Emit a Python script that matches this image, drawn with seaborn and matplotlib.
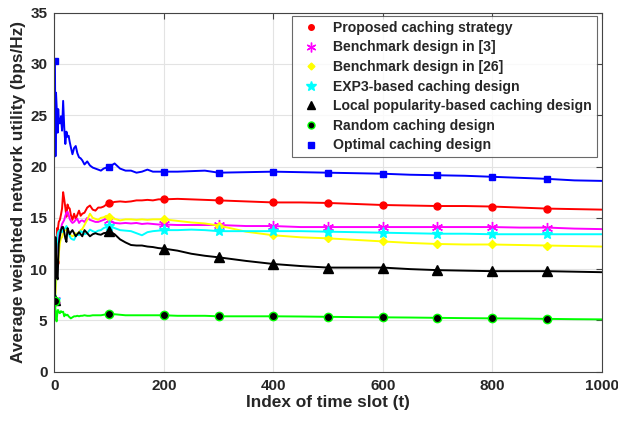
import numpy as np
import pandas as pd
import matplotlib
matplotlib.use('Agg')
import matplotlib.pyplot as plt
from matplotlib.lines import Line2D
import seaborn as sns

# ---------------------------------------------------------------
# data (time slot -> utility, bps/Hz)
# ---------------------------------------------------------------
t_slots = [1, 2, 3, 4, 5, 6, 7, 8, 10, 12, 14, 16, 18, 20, 22, 24, 26, 28, 30,
           33, 36, 39, 42, 45, 48, 51, 55, 60, 65, 70, 75, 80, 85, 90, 95, 100,
           110, 120, 130, 140, 150, 160, 170, 180, 190, 200, 225, 250, 275, 300,
           350, 400, 450, 500, 550, 600, 650, 700, 750, 800, 850, 900, 950, 1000]

proposed = [10.7, 12.0, 13.1, 12.6, 14.0, 13.5, 14.2, 14.6, 14.8, 15.3, 15.9, 17.5, 16.8, 16.0, 15.1, 16.3, 16.0, 15.9, 15.3,
            14.8, 15.4, 14.9, 15.3, 15.7, 15.2, 15.4, 15.5, 16.0, 16.2, 15.8, 15.7, 16.0, 16.0, 16.1, 16.3, 16.4,
            16.55, 16.6, 16.55, 16.6, 16.7, 16.7, 16.75, 16.7, 16.8, 16.8, 16.85, 16.8, 16.75, 16.7,
            16.6, 16.5, 16.5, 16.45, 16.35, 16.25, 16.2, 16.15, 16.15, 16.1, 16.0, 15.9, 15.85, 15.8]

bench_3 = [7.0, 9.0, 10.5, 11.5, 12.3, 12.5, 13.0, 13.5, 13.7, 13.9, 14.4, 14.6, 14.8, 15.2, 15.5, 15.6, 15.3, 14.9, 14.7,
           14.5, 14.6, 14.8, 14.9, 14.5, 14.7, 14.75, 14.6, 15.0, 14.8, 14.7, 14.6, 14.6, 14.7, 14.8, 14.9, 14.8,
           14.5, 14.45, 14.5, 14.45, 14.5, 14.4, 14.45, 14.4, 14.35, 14.35, 14.3, 14.3, 14.3, 14.3,
           14.2, 14.2, 14.1, 14.1, 14.1, 14.1, 14.1, 14.1, 14.1, 14.1, 14.05, 14.05, 13.95, 13.9]

bench_26 = [7.0, 7.5, 8.5, 9.5, 10.2, 10.5, 10.6, 11.5, 12.5, 13.0, 13.1, 13.5, 13.7, 13.9, 13.8, 13.6, 13.5, 13.4, 13.3,
            13.2, 13.3, 13.5, 13.4, 13.6, 13.8, 13.9, 14.3, 14.8, 15.4, 15.0, 14.9, 14.8, 15.0, 15.05, 15.2, 15.1,
            14.9, 14.75, 14.85, 14.85, 14.8, 14.85, 14.8, 14.85, 14.85, 14.85, 14.7, 14.55, 14.45, 14.25,
            13.65, 13.3, 13.1, 13.0, 12.85, 12.7, 12.55, 12.45, 12.4, 12.4, 12.35, 12.3, 12.25, 12.2]

exp3 = [7.0, 9.5, 11.0, 12.0, 12.8, 13.4, 13.6, 13.7, 13.8, 13.9, 13.6, 13.8, 13.9, 14.0, 14.2, 14.0, 13.5, 13.2, 13.0,
        12.9, 12.85, 13.2, 13.4, 13.3, 13.7, 13.6, 13.4, 13.5, 13.85, 13.7, 13.6, 13.75, 13.8, 14.0, 14.1, 14.2,
        14.0, 13.8, 13.75, 13.7, 13.5, 13.3, 13.6, 13.7, 13.75, 13.8, 13.8, 13.85, 13.8, 13.7,
        13.7, 13.7, 13.7, 13.65, 13.6, 13.55, 13.5, 13.45, 13.45, 13.4, 13.4, 13.4, 13.4, 13.4]

local_pop = [7.0, 13.1, 11.5, 9.9, 9.2, 9.0, 11.0, 12.5, 13.2, 13.8, 14.1, 14.1, 13.6, 13.0, 12.65, 14.0, 13.7, 13.4, 13.6,
             13.8, 13.5, 13.2, 13.4, 13.6, 13.4, 13.2, 13.8, 13.5, 13.2, 13.4, 13.5, 13.4, 13.35, 13.5, 13.55, 13.7,
             13.4, 12.9, 12.6, 12.35, 12.3, 12.3, 12.2, 12.15, 12.05, 12.0, 11.8, 11.5, 11.3, 11.15,
             10.8, 10.5, 10.3, 10.15, 10.15, 10.15, 10.0, 9.9, 9.85, 9.8, 9.8, 9.8, 9.75, 9.7]

random_cache = [6.9, 6.0, 5.2, 4.9, 5.5, 6.0, 6.0, 5.8, 5.7, 5.9, 5.8, 5.85, 5.4, 5.6, 5.5, 5.55, 5.4, 5.3, 5.2,
                5.3, 5.4, 5.4, 5.45, 5.4, 5.45, 5.45, 5.5, 5.45, 5.45, 5.5, 5.5, 5.5, 5.5, 5.55, 5.6, 5.6,
                5.6, 5.55, 5.5, 5.5, 5.5, 5.5, 5.5, 5.5, 5.5, 5.5, 5.45, 5.45, 5.45, 5.4,
                5.4, 5.4, 5.38, 5.35, 5.32, 5.3, 5.28, 5.25, 5.22, 5.2, 5.18, 5.15, 5.12, 5.1]

optimal = [30.3, 21.0, 27.2, 26.0, 24.8, 23.3, 25.6, 24.5, 24.2, 24.9, 23.5, 26.4, 23.8, 22.2, 23.4, 22.9, 23.0, 22.4, 21.9,
           21.2, 21.8, 22.0, 21.3, 20.9, 20.8, 20.6, 20.2, 20.5, 20.1, 19.9, 19.8, 19.7, 19.6, 19.8, 19.9, 19.95,
           20.3, 19.8, 19.6, 19.6, 19.4, 19.5, 19.7, 19.5, 19.5, 19.5, 19.5, 19.55, 19.6, 19.4,
           19.45, 19.5, 19.45, 19.4, 19.35, 19.3, 19.2, 19.15, 19.1, 19.0, 18.9, 18.8, 18.65, 18.6]

labels = ['Proposed caching strategy', 'Benchmark design in [3]', 'Benchmark design in [26]',
          'EXP3-based caching design', 'Local popularity-based caching design',
          'Random caching design', 'Optimal caching design']
marker_slots = [1, 100, 200, 300, 400, 500, 600, 700, 800, 900]

# ---------------------------------------------------------------
# style  (matlab-ish look)
# ---------------------------------------------------------------
sns.set_style('whitegrid')
plt.rcParams['font.family'] = ['Liberation Sans', 'DejaVu Sans']
plt.rcParams['font.weight'] = 'bold'

series = [proposed, bench_3, bench_26, exp3, local_pop, random_cache, optimal]
colors = ['#ff0000', '#ff00ff', '#ffff00', '#00ffff', '#000000', '#00ff00', '#0000ff']
markers = ['o', (6, 2, 0), 'D', '*', '^', 'o', 's']
msizes = [5, 8, 4.5, 8, 7, 6, 5]
mfaces = ['#ff0000', '#ff00ff', '#ffff00', '#00ffff', '#000000', '#000000', '#0000ff']

mark_idx = [t_slots.index(s) for s in marker_slots]

fig, ax = plt.subplots(figsize=(6.18, 4.22), dpi=100)
fig.subplots_adjust(left=0.088, right=0.9736, bottom=0.1192, top=0.970)

handles = []
for vals, lab, c, m, ms, mf in zip(series, labels, colors, markers, msizes, mfaces):
    df = pd.DataFrame({'t': t_slots, 'u': vals})
    sns.lineplot(data=df, x='t', y='u', ax=ax, color=c, lw=1.4,
                 marker=m, markersize=ms, markerfacecolor=mf, markeredgecolor=c,
                 markeredgewidth=1.0, markevery=mark_idx, legend=False)
    handles.append(Line2D([], [], ls='none', marker=m, color=c, markersize=ms - 1,
                          markerfacecolor=mf, markeredgecolor=c, label=lab))

ax.set_xlim(0, 1000)
ax.set_ylim(0, 35)
ax.set_xticks(np.arange(0, 1001, 200))
ax.set_yticks(np.arange(0, 36, 5))
ax.grid(True, color='#e3e3e3', lw=0.8)
for sp in ax.spines.values():
    sp.set_color('#444444')
    sp.set_linewidth(0.8)
ax.tick_params(direction='in', length=4, top=True, right=True, labelsize=11,
               color='#444444', pad=5)
for lbl in ax.get_xticklabels() + ax.get_yticklabels():
    lbl.set_fontweight('bold')

ax.set_xlabel('Index of time slot (t)', fontsize=12.4, fontweight='bold', labelpad=2)
ax.set_ylabel('Average weighted network utility (bps/Hz)', fontsize=12.4, fontweight='bold', labelpad=3)

leg = ax.legend(handles=handles, loc='upper right', bbox_to_anchor=(0.991, 0.991),
                borderaxespad=0, fontsize=10.1, frameon=True, fancybox=False,
                edgecolor='#444444', handletextpad=0.6, labelspacing=0.4,
                borderpad=0.35, handlelength=2.0)
leg.get_frame().set_linewidth(0.8)
for txt in leg.get_texts():
    txt.set_fontweight('bold')

plt.savefig('out.png', dpi=100)
